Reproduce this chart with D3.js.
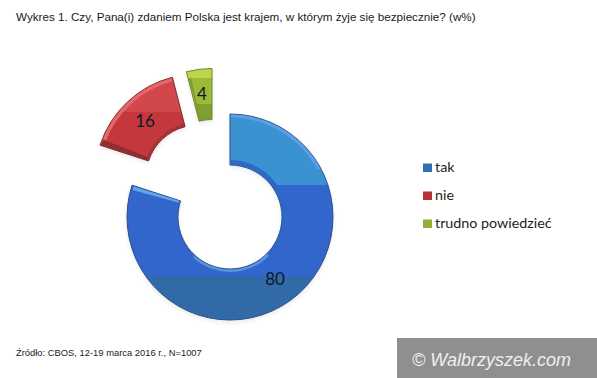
<!DOCTYPE html>
<html>
<head>
<meta charset="utf-8">
<script src="https://d3js.org/d3.v7.min.js"></script>
<style>
  html, body { margin: 0; padding: 0; background: #fff; }
  svg { display: block; }
</style>
</head>
<body>
<svg id="chart" width="597" height="378"></svg>
<script>
var categories = ["tak", "nie", "trudno powiedzieć"];
var values = [80, 16, 4];
var titleText = "Wykres 1. Czy, Pana(i) zdaniem Polska jest krajem, w którym żyje się bezpiecznie? (w%)";
var sourceText = "Źródło: CBOS, 12-19 marca 2016 r., N=1007";
var creditText = "© Walbrzyszek.com";

var width = 597, height = 378,
    cx = 230, cy = 217,
    outerR = 103, innerR = 52,
    // exploded slices sit away from the ring centre
    offsets = [[0, 0], [-32, -40], [-18, -45.5]],
    labelPos = [[275, 278], [145, 120], [202, 93]],
    edge = ["#2b4f8e", "#7d2a2a", "#6e8a2c"],
    // hard colour bands, [y in page px, colour]
    bands = [
        [[185, "#3a92d0"], [276, "#3166cc"], [330, "#336aa8"]],
        [[112, "#d2464a"], [170, "#c4383c"]],
        [[78, "#bcd64a"], [104, "#9cba38"], [130, "#7ea032"]]
    ],
    legendFill = ["#2f6fb0", "#b8323a", "#8fae3a"]

var svg = d3.select("#chart")
var defs = svg.append("defs")

var soft = defs.append("filter").attr("id", "soft")
soft.append("feGaussianBlur").attr("stdDeviation", 0.35)

var shadow = defs.append("filter").attr("id", "shadow")
    .attr("x", "-10%").attr("y", "-10%").attr("width", "120%").attr("height", "120%")
shadow.append("feGaussianBlur").attr("stdDeviation", 2)

var deg = Math.PI / 180
var pie = d3.pie().sort(null)
var slices = pie(values)
var arc = d3.arc().innerRadius(innerR).outerRadius(outerR)

// a stepped gradient for each slice. the slice path is translated, so the
// gradient box is local to it, the stops are worked out from page y
bands.forEach(function(list, i) {
    var top = cy + offsets[i][1] - outerR - 2,
        bottom = cy + offsets[i][1] + outerR + 2
    var y = d3.scaleLinear().domain([top, bottom]).range([0, 100])
    var grad = defs.append("linearGradient")
        .attr("id", "band" + i)
        .attr("gradientUnits", "userSpaceOnUse")
        .attr("x1", 0).attr("x2", 0).attr("y1", -outerR - 2).attr("y2", outerR + 2)
    var from = top
    list.forEach(function(b) {
        grad.append("stop").attr("offset", y(from) + "%").attr("stop-color", b[1])
        grad.append("stop").attr("offset", y(b[0]) + "%").attr("stop-color", b[1])
        from = b[0]
    })
})

svg.append("rect").attr("width", width).attr("height", height).attr("fill", "#fff")

var ring = svg.append("g").attr("filter", "url(#soft)")

// soft shadow below the ring
ring.append("g")
    .attr("filter", "url(#shadow)")
    .attr("opacity", 0.15)
    .selectAll("path")
    .data(slices)
    .join("path")
    .attr("transform", function(d, i) {
        return "translate(" + (cx + offsets[i][0]) + "," + (cy + offsets[i][1] + 2) + ")"
    })
    .attr("d", arc)
    .attr("fill", "#555")

ring.selectAll("path.slice")
    .data(slices)
    .join("path")
    .attr("class", "slice")
    .attr("transform", function(d, i) {
        return "translate(" + (cx + offsets[i][0]) + "," + (cy + offsets[i][1]) + ")"
    })
    .attr("d", arc)
    .attr("fill", function(d, i) { return "url(#band" + i + ")" })
    .attr("stroke", function(d, i) { return edge[i] })
    .attr("stroke-width", 1)

// bevel strips: slice, r0, r1, a0, a1 (degrees), colour
var bevels = [
    [0, 99.5, 102.5, 0.5, 62, "#5f9de6"],
    [0, 52.5, 57, 0.5, 88, "#2f68c6"],
    [0, 52.5, 55, 135, 222, "#5a94da"],
    [0, 53, 101, 285.5, 287.6, "#63a6e6"],
    [1, 99, 102.5, 290, 345, "#e2686c"],
    [1, 53, 102, 288.4, 291.5, "#8c2e30"],
    [1, 52.5, 55, 292, 345, "#a53336"],
    [2, 53, 96, 346, 347.5, "#7f9e33"]
]
ring.selectAll("path.bevel")
    .data(bevels)
    .join("path")
    .attr("class", "bevel")
    .attr("transform", function(d) {
        return "translate(" + (cx + offsets[d[0]][0]) + "," + (cy + offsets[d[0]][1]) + ")"
    })
    .attr("d", function(d) {
        return d3.arc()({ innerRadius: d[1], outerRadius: d[2], startAngle: d[3] * deg, endAngle: d[4] * deg })
    })
    .attr("fill", function(d) { return d[5] })

// value labels
svg.selectAll("text.value")
    .data(values)
    .join("text")
    .attr("class", "value")
    .attr("x", function(d, i) { return labelPos[i][0] })
    .attr("y", function(d, i) { return labelPos[i][1] })
    .attr("text-anchor", "middle")
    .attr("dominant-baseline", "central")
    .attr("font-family", "Lato, 'Noto Sans', sans-serif")
    .attr("font-size", "17px")
    .attr("fill", "#10182a")
    .text(function(d) { return d })

// legend
var legendY = d3.scalePoint().domain(categories).range([167, 223])
var legend = svg.selectAll("g.legend")
    .data(categories)
    .join("g")
    .attr("class", "legend")
    .attr("transform", function(d) { return "translate(423," + legendY(d) + ")" })

legend.append("rect")
    .attr("x", 0).attr("y", -3.5).attr("width", 9).attr("height", 8.5)
    .attr("fill", function(d, i) { return legendFill[i] })

legend.append("text")
    .attr("x", 12).attr("y", -1)
    .attr("dominant-baseline", "central")
    .attr("font-family", "Lato, 'Noto Sans', sans-serif")
    .attr("font-size", "14.3px")
    .attr("fill", "#1d1d1d")
    .text(function(d) { return d })

// title and source
svg.append("text")
    .attr("x", 16).attr("y", 21)
    .attr("font-family", "'Liberation Sans', Arial, sans-serif")
    .attr("font-size", "11.67px")
    .attr("fill", "#1a1a1a")
    .text(titleText)

svg.append("text")
    .attr("x", 16).attr("y", 356)
    .attr("font-family", "'Liberation Sans', Arial, sans-serif")
    .attr("font-size", "9.4px")
    .attr("fill", "#1a1a1a")
    .text(sourceText)

// watermark
svg.append("rect")
    .attr("x", 397).attr("y", 338).attr("width", 200).attr("height", 40)
    .attr("fill", "#8f8f8f")

svg.append("text")
    .attr("x", 412).attr("y", 366)
    .attr("font-family", "'Liberation Sans', Arial, sans-serif")
    .attr("font-style", "italic")
    .attr("font-size", "18px")
    .attr("fill", "#f0f0f0")
    .text(creditText)
</script>
</body>
</html>
